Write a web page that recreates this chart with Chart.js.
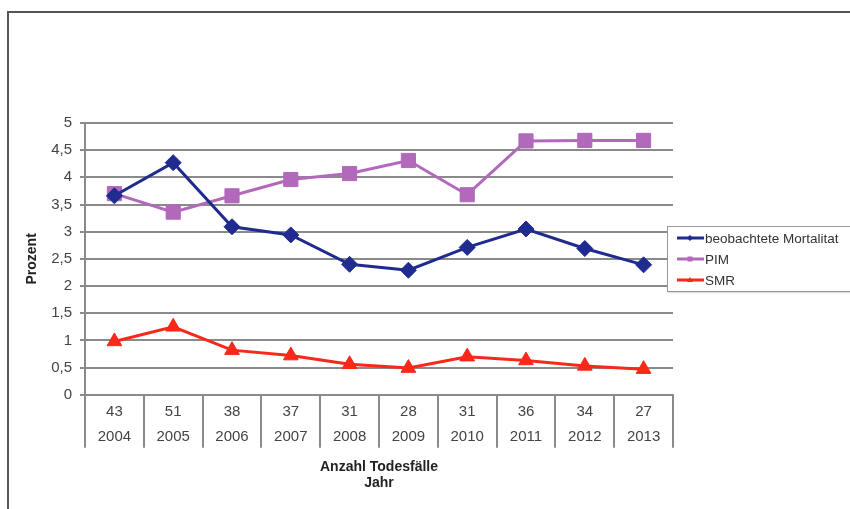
<!DOCTYPE html>
<html>
<head>
<meta charset="utf-8">
<script src="https://cdn.jsdelivr.net/npm/chart.js@4"></script>
<style>
  html, body { margin: 0; padding: 0; background: #fff; }
  #wrap { position: relative; width: 850px; height: 509px; overflow: hidden; }
  #frame { position: absolute; left: 7px; top: 11px; width: 900px; height: 600px;
           border-left: 2px solid #555; border-top: 2px solid #555; }
  canvas { position: absolute; left: 0; top: 0; }
  #legend { position: absolute; left: 667px; top: 226px; width: 200px; height: 64px;
            border: 1px solid #999; background: #fff; box-shadow: 1px 1px 1px #ddd;
            font-family: "Liberation Sans", Arial, sans-serif; font-size: 13.5px; color: #333; }
  .row { position: absolute; left: 9px; height: 20px; display: flex; align-items: center; }
  .row svg { margin-right: 1px; }
</style>
</head>
<body>
<div id="wrap">
  <div id="frame"></div>
  <canvas id="chart" width="850" height="509"></canvas>
  <div id="legend"></div>
</div>
<script>
// --- Daten ---
const jahre = ['2004', '2005', '2006', '2007', '2008', '2009', '2010', '2011', '2012', '2013'];
const todesfaelle = ['43', '51', '38', '37', '31', '28', '31', '36', '34', '27'];
const mortalitaet = [3.66, 4.27, 3.09, 2.94, 2.40, 2.29, 2.71, 3.05, 2.69, 2.39];
const pim = [3.70, 3.36, 3.66, 3.96, 4.07, 4.31, 3.68, 4.67, 4.68, 4.68];
const smr = [0.98, 1.25, 0.82, 0.72, 0.56, 0.49, 0.70, 0.63, 0.53, 0.47];

const BLAU = '#1f2b8f';
const LILA = '#b268bb';
const ROT = '#f8281a';
const GRID = '#8a8a8a';
const FONT = '"Liberation Sans", Arial, sans-serif';

const serien = [
  { label: 'beobachtete Mortalitat', data: mortalitaet, color: BLAU, style: 'rectRot', radius: 8 },
  { label: 'PIM', data: pim, color: LILA, style: 'rect', radius: 10 },
  { label: 'SMR', data: smr, color: ROT, style: 'triangle', radius: 8.5 },
];

// Kategorien: zwei Zeilen (Todesfälle / Jahr)
const labels = jahre.map((j, i) => [todesfaelle[i], j]);

new Chart(document.getElementById('chart'), {
  type: 'line',
  data: {
    labels: labels,
    datasets: serien.map(s => ({
      label: s.label,
      data: s.data,
      borderColor: s.color,
      backgroundColor: s.color,
      borderWidth: 3,
      pointStyle: s.style,
      pointRadius: s.radius,
      pointBorderWidth: 1,
      tension: 0,
    })),
  },
  options: {
    responsive: false,
    animation: false,
    layout: { padding: { top: 123, right: 177, left: 0, bottom: 0 } },
    plugins: { legend: { display: false }, tooltip: { enabled: false } },
    scales: {
      x: {
        offset: true,
        afterFit: (scale) => { scale.height = 114.3; },
        border: { display: true, color: GRID, width: 2 },
        grid: { offset: true, drawOnChartArea: false, tickLength: 53, color: GRID, lineWidth: 2 },
        ticks: {
          color: '#444',
          font: { family: FONT, size: 15, lineHeight: 1.7 },
          padding: -48.8,
          maxRotation: 0,
          autoSkip: false,
        },
        title: {
          display: true,
          text: ['Anzahl Todesfälle', 'Jahr'],
          color: '#222',
          font: { family: FONT, size: 14, weight: 'bold', lineHeight: 1.1 },
          padding: { top: 4, bottom: 18.6 },
        },
      },
      y: {
        min: 0,
        max: 5,
        afterFit: (scale) => { scale.width = 85; },
        border: { display: true, color: GRID, width: 2 },
        grid: { color: GRID, lineWidth: 2, tickLength: 5 },
        ticks: {
          stepSize: 0.5,
          color: '#444',
          padding: 8,
          font: { family: FONT, size: 15 },
          callback: (v) => String(v).replace('.', ','),
        },
        title: {
          display: true,
          text: 'Prozent',
          color: '#222',
          font: { family: FONT, size: 14, weight: 'bold', lineHeight: 1.2 },
          padding: { top: 24, bottom: 0 },
        },
      },
    },
  },
});

// --- Legende ---
function markerSvg(s) {
  let m = '';
  if (s.style === 'rectRot') m = '<polygon points="13,3 16,6 13,9 10,6" fill="' + s.color + '"/>';
  else if (s.style === 'rect') m = '<rect x="10.5" y="3.5" width="5" height="5" fill="' + s.color + '"/>';
  else m = '<polygon points="13,3 16,8 10,8" fill="' + s.color + '"/>';
  return '<svg width="27" height="12"><line x1="0" y1="6" x2="27" y2="6" stroke="' + s.color +
    '" stroke-width="3"/>' + m + '</svg>';
}
const legende = document.getElementById('legend');
serien.forEach((s, i) => {
  const row = document.createElement('div');
  row.className = 'row';
  row.style.top = (1 + i * 21) + 'px';
  row.innerHTML = markerSvg(s) + '<span>' + s.label + '</span>';
  legende.appendChild(row);
});
</script>
</body>
</html>
